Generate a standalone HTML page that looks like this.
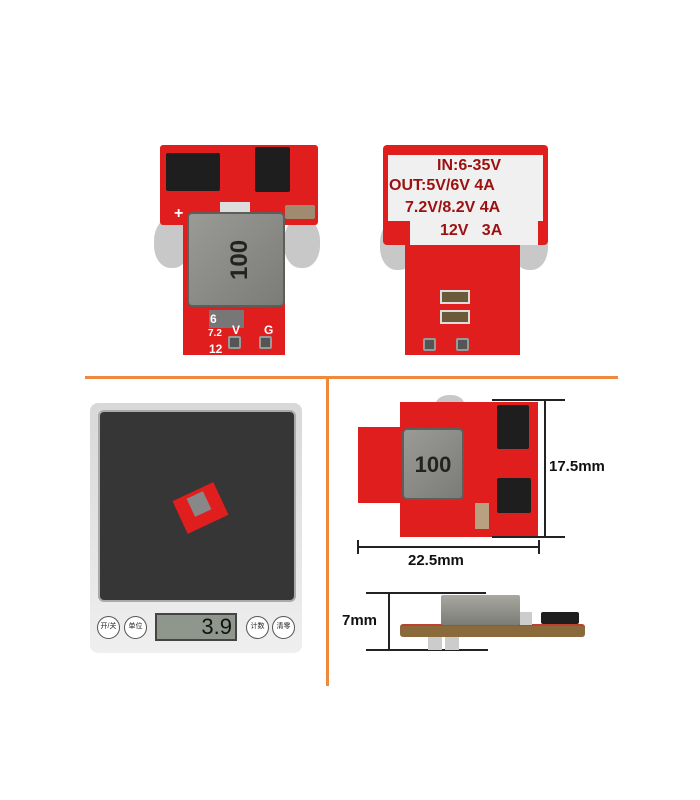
<!DOCTYPE html>
<html><head><meta charset="utf-8"><style>
body{margin:0;width:700px;height:800px;background:#fff;position:relative;overflow:hidden;font-family:"Liberation Sans","Noto Sans CJK SC",sans-serif}
div{position:absolute;box-sizing:border-box}
.red{background:#e01e1e}
.sil{background:#c8c8c8;border-radius:45%}
.chip{background:#1e1e1e;border-radius:2px}
.ind{background:linear-gradient(135deg,#9a9a96,#7b7b78);border:2px solid #5d5d5a;border-radius:5px}
.pad{width:13px;height:13px;background:#555;border:2px solid #999;border-radius:2px}
.t{color:#fff;font-weight:bold;font-size:12px}
.w{color:#9c1010;font-weight:bold;font-size:16px;white-space:nowrap}
.btn{width:23px;height:23px;border-radius:50%;background:#fff;border:1.5px solid #555;font-size:7px;text-align:center;line-height:20px;color:#222}
.ln{background:#222}
.lbl{font-weight:bold;font-size:15px;color:#111}
</style></head><body>

<!-- top-left board -->
<div class="sil" style="left:154px;top:218px;width:36px;height:50px"></div>
<div class="sil" style="left:284px;top:218px;width:36px;height:50px"></div>
<div class="red" style="left:160px;top:145px;width:158px;height:80px;border-radius:3px"></div>
<div class="red" style="left:183px;top:220px;width:102px;height:135px"></div>
<div class="chip" style="left:166px;top:153px;width:54px;height:38px"></div>
<div class="chip" style="left:255px;top:147px;width:35px;height:45px"></div>
<div style="left:285px;top:205px;width:30px;height:14px;background:#a08a70;border-radius:2px"></div>
<div style="left:220px;top:202px;width:30px;height:10px;background:#ddd"></div>
<div style="left:209px;top:310px;width:35px;height:18px;background:#777"></div>
<div class="ind" style="left:187px;top:212px;width:98px;height:95px"></div>
<div style="left:220px;top:232px;width:40px;height:55px;font-size:24px;font-weight:bold;color:#222;writing-mode:vertical-rl;transform:rotate(180deg);line-height:40px;text-align:center">100</div>
<div class="t" style="left:174px;top:205px;font-size:16px">+</div>
<div class="t" style="left:210px;top:312px">6</div>
<div class="t" style="left:208px;top:328px;font-size:10px">7.2</div>
<div class="t" style="left:209px;top:342px">12</div>
<div class="t" style="left:232px;top:323px">V</div>
<div class="t" style="left:264px;top:323px">G</div>
<div class="pad" style="left:228px;top:336px"></div>
<div class="pad" style="left:259px;top:336px"></div>

<!-- top-right board -->
<div class="sil" style="left:380px;top:220px;width:36px;height:50px"></div>
<div class="sil" style="left:512px;top:220px;width:36px;height:50px"></div>
<div class="red" style="left:383px;top:145px;width:165px;height:100px;border-radius:4px"></div>
<div class="red" style="left:405px;top:240px;width:115px;height:115px"></div>
<div style="left:388px;top:155px;width:155px;height:66px;background:#f0f0f0"></div>
<div style="left:410px;top:220px;width:128px;height:25px;background:#f0f0f0"></div>
<div class="w" style="left:437px;top:157px">IN:6-35V</div>
<div class="w" style="left:389px;top:177px">OUT:5V/6V 4A</div>
<div class="w" style="left:405px;top:199px">7.2V/8.2V 4A</div>
<div class="w" style="left:440px;top:222px">12V &nbsp; 3A</div>
<div style="left:440px;top:290px;width:30px;height:14px;background:#6b5a3a;border:2px solid #ddd"></div>
<div style="left:440px;top:310px;width:30px;height:14px;background:#6b5a3a;border:2px solid #ddd"></div>
<div class="pad" style="left:423px;top:338px"></div>
<div class="pad" style="left:456px;top:338px"></div>

<!-- orange dividers -->
<div style="left:85px;top:376px;width:533px;height:3px;background:#ef8a3c"></div>
<div style="left:326px;top:376px;width:3px;height:310px;background:#ef8a3c"></div>

<!-- scale -->
<div style="left:90px;top:403px;width:212px;height:250px;background:linear-gradient(#d8d8d8,#efefef);border-radius:8px"></div>
<div style="left:98px;top:410px;width:198px;height:192px;background:#363636;border-radius:6px;border:2px solid #aaa"></div>
<div style="left:155px;top:613px;width:82px;height:28px;background:#8f968c;border:2px solid #444;font-size:22px;text-align:right;padding-right:3px;line-height:24px;color:#111">3.9</div>
<div class="btn" style="left:97px;top:616px">开/关</div>
<div class="btn" style="left:124px;top:616px">单位</div>
<div class="btn" style="left:246px;top:616px">计数</div>
<div class="btn" style="left:272px;top:616px">清零</div>
<div class="red" style="left:178px;top:490px;width:45px;height:36px;transform:rotate(-25deg)"></div>
<div style="left:190px;top:494px;width:18px;height:20px;background:#888;transform:rotate(-25deg)"></div>

<!-- dimension view -->
<div class="sil" style="left:435px;top:395px;width:30px;height:25px"></div>
<div class="sil" style="left:433px;top:512px;width:30px;height:25px"></div>
<div class="red" style="left:358px;top:427px;width:45px;height:76px"></div>
<div class="red" style="left:400px;top:402px;width:90px;height:135px"></div>
<div class="red" style="left:488px;top:402px;width:50px;height:135px"></div>
<div class="chip" style="left:497px;top:405px;width:32px;height:44px"></div>
<div class="chip" style="left:497px;top:478px;width:34px;height:35px"></div>
<div style="left:475px;top:503px;width:14px;height:26px;background:#b8a080"></div>
<div class="ind" style="left:402px;top:428px;width:62px;height:72px"></div>
<div style="left:403px;top:452px;width:60px;font-size:22px;font-weight:bold;text-align:center;color:#222">100</div>
<div class="ln" style="left:544px;top:400px;width:1.5px;height:137px"></div>
<div class="ln" style="left:492px;top:399px;width:73px;height:1.5px"></div>
<div class="ln" style="left:492px;top:536px;width:73px;height:1.5px"></div>
<div class="lbl" style="left:549px;top:458px">17.5mm</div>
<div class="ln" style="left:357px;top:546px;width:183px;height:1.5px"></div>
<div class="ln" style="left:357px;top:540px;width:1.5px;height:14px"></div>
<div class="ln" style="left:538px;top:540px;width:1.5px;height:14px"></div>
<div class="lbl" style="left:408px;top:552px">22.5mm</div>

<!-- side view -->
<div class="ln" style="left:366px;top:592px;width:120px;height:1.5px"></div>
<div class="ln" style="left:366px;top:649px;width:122px;height:1.5px"></div>
<div class="ln" style="left:388px;top:592px;width:1.5px;height:58px"></div>
<div class="lbl" style="left:342px;top:612px">7mm</div>
<div style="left:400px;top:624px;width:185px;height:13px;background:#8a6a3a;border-radius:3px;border-top:2px solid #c04030"></div>
<div style="left:441px;top:595px;width:79px;height:30px;background:linear-gradient(#a8a8a0,#7c7c76);border-radius:2px"></div>
<div style="left:520px;top:612px;width:12px;height:13px;background:#ccc"></div>
<div class="chip" style="left:541px;top:612px;width:38px;height:12px"></div>
<div style="left:428px;top:637px;width:14px;height:13px;background:#ccc"></div>
<div style="left:445px;top:637px;width:14px;height:13px;background:#ccc"></div>
</body></html>
